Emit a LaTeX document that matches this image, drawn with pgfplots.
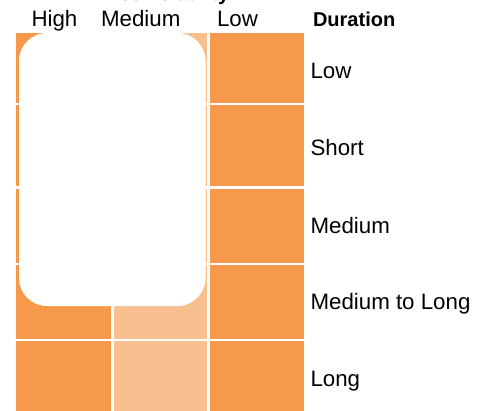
\documentclass[border=0pt]{standalone}
\usepackage{pgfplots}
\pgfplotsset{compat=1.18}
\usepackage{fontspec}
\setmainfont{Liberation Sans}
\definecolor{darkor}{HTML}{F7994A}
\definecolor{lightor}{HTML}{F9C08F}
\newcommand{\lbl}{\fontsize{22.3}{25}\selectfont}
\begin{document}
\begin{tikzpicture}
\begin{axis}[
  at={(0,0)}, anchor=south west,
  width=482pt, height=410pt, scale only axis,
  xmin=0, xmax=482, ymin=0, ymax=410, y dir=reverse,
  hide axis, clip=false,
]
% column High (dark)
\addplot[fill=darkor, draw=none] coordinates {(16,33)(111,33)(111,102.5)(16,102.5)} -- cycle;
\addplot[fill=darkor, draw=none] coordinates {(16,105)(111,105)(111,186)(16,186)} -- cycle;
\addplot[fill=darkor, draw=none] coordinates {(16,188.5)(111,188.5)(111,262.5)(16,262.5)} -- cycle;
\addplot[fill=darkor, draw=none] coordinates {(16,265)(111,265)(111,338.5)(16,338.5)} -- cycle;
\addplot[fill=darkor, draw=none] coordinates {(16,341)(111,341)(111,416)(16,416)} -- cycle;
% column Medium (light)
\addplot[fill=lightor, draw=none] coordinates {(114,33)(207,33)(207,102.5)(114,102.5)} -- cycle;
\addplot[fill=lightor, draw=none] coordinates {(114,105)(207,105)(207,186)(114,186)} -- cycle;
\addplot[fill=lightor, draw=none] coordinates {(114,188.5)(207,188.5)(207,262.5)(114,262.5)} -- cycle;
\addplot[fill=lightor, draw=none] coordinates {(114,265)(207,265)(207,338.5)(114,338.5)} -- cycle;
\addplot[fill=lightor, draw=none] coordinates {(114,341)(207,341)(207,416)(114,416)} -- cycle;
% column Low (dark)
\addplot[fill=darkor, draw=none] coordinates {(210,33)(304,33)(304,102.5)(210,102.5)} -- cycle;
\addplot[fill=darkor, draw=none] coordinates {(210,105)(304,105)(304,186)(210,186)} -- cycle;
\addplot[fill=darkor, draw=none] coordinates {(210,188.5)(304,188.5)(304,262.5)(210,262.5)} -- cycle;
\addplot[fill=darkor, draw=none] coordinates {(210,265)(304,265)(304,338.5)(210,338.5)} -- cycle;
\addplot[fill=darkor, draw=none] coordinates {(210,341)(304,341)(304,416)(210,416)} -- cycle;
% white rounded panel over the left two columns
\addplot[fill=white, draw=none, rounded corners=28pt]
  coordinates {(112,33)(205.5,33)(205.5,306)(19,306)(19,33)} -- cycle;

% headers (the title runs off the top edge, as in the source)
\node[anchor=base, font=\bfseries\fontsize{20}{24}\selectfont] at (axis cs:161,0) {Price Volatility};
\node[anchor=base west, font=\lbl] at (axis cs:28,26) {High};
\node[anchor=base west, font=\lbl] at (axis cs:97.5,26) {Medium};
\node[anchor=base west, font=\lbl] at (axis cs:213.5,26) {Low};
\node[anchor=base west, font=\bfseries\fontsize{20}{24}\selectfont] at (axis cs:309.5,26) {Duration};
% row labels
\node[anchor=base west, font=\lbl] at (axis cs:307,78) {Low};
\node[anchor=base west, font=\lbl] at (axis cs:307,155) {Short};
\node[anchor=base west, font=\lbl] at (axis cs:307,233) {Medium};
\node[anchor=base west, font=\lbl] at (axis cs:307,309.5) {Medium to Long};
\node[anchor=base west, font=\lbl] at (axis cs:307,386) {Long};
\end{axis}
\pgfresetboundingbox
\useasboundingbox (0,0) rectangle (482pt,410pt);
\end{tikzpicture}
\end{document}
